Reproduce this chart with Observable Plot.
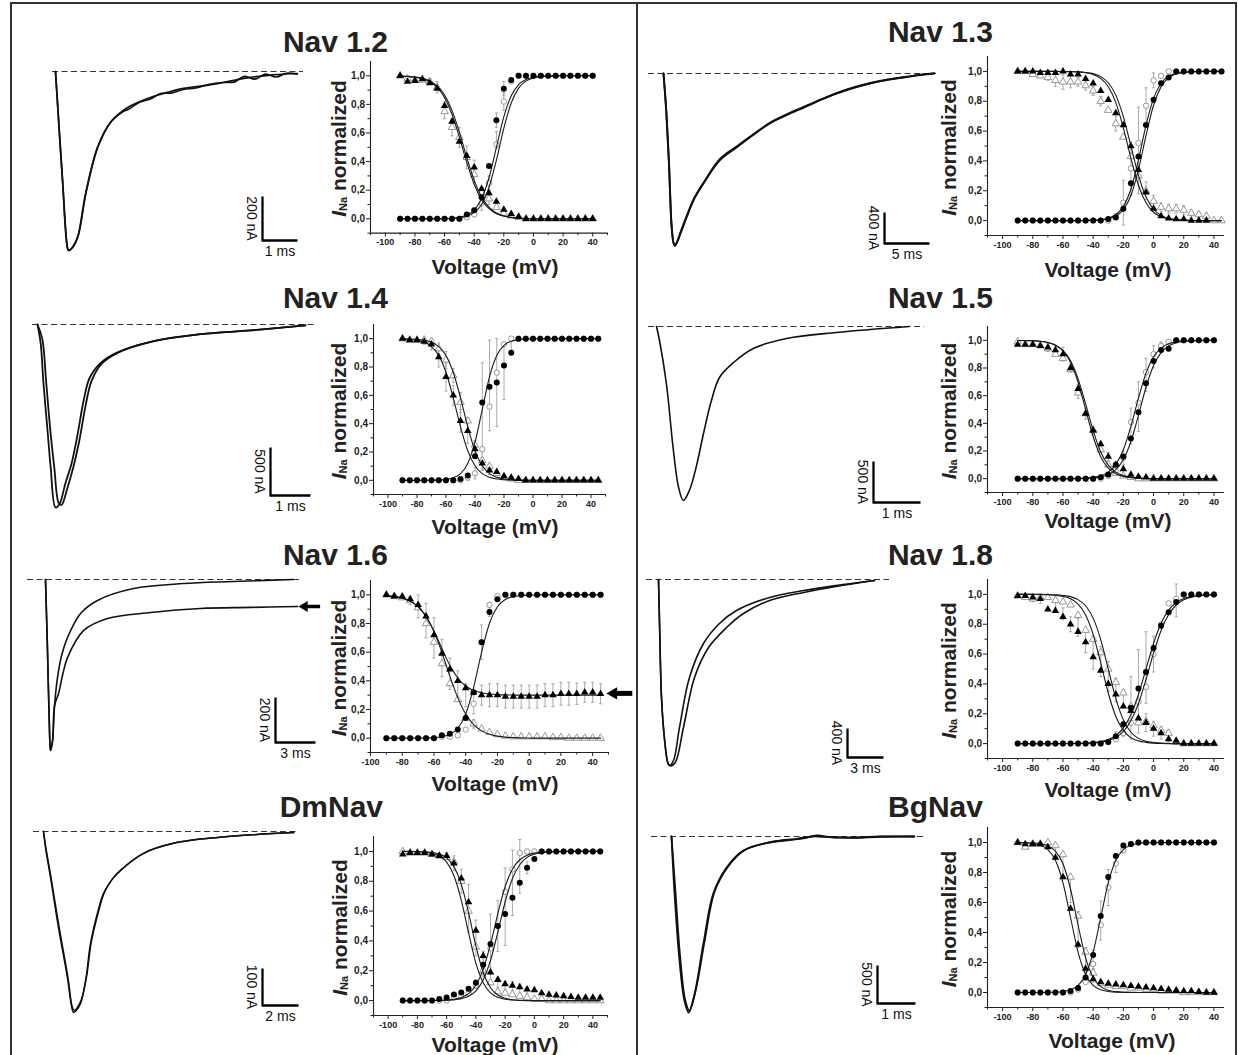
<!DOCTYPE html>
<html><head><meta charset="utf-8">
<script src="https://cdn.jsdelivr.net/npm/d3@7"></script>
<script src="https://cdn.jsdelivr.net/npm/@observablehq/plot@0.6"></script>
<style>
body{margin:0;background:#fff;}
#fig{position:relative;width:1238px;height:1055px;overflow:hidden;background:#fff;font-family:"Liberation Sans",Arial,sans-serif;}
</style></head>
<body><div id="fig"></div>
<script>
// ---------------- DATA ----------------
const panelNames = ["Nav 1.2","Nav 1.3","Nav 1.4","Nav 1.5","Nav 1.6","Nav 1.8","DmNav","BgNav"];
const volt40 = [-90,-85,-80,-75,-70,-65,-60,-55,-50,-45,-40,-35,-30,-25,-20,-15,-10,-5,0,5,10,15,20,25,30,35,40];
const volt45 = [-90,-85,-80,-75,-70,-65,-60,-55,-50,-45,-40,-35,-30,-25,-20,-15,-10,-5,0,5,10,15,20,25,30,35,40,45];
const xTicksMajor = [-100,-80,-60,-40,-20,0,20,40];
const xTicksMinor = [-110,-90,-70,-50,-30,-10,10,30,50];
const yTicksMajor = [0,0.2,0.4,0.6,0.8,1.0];
const yTicksMinor = [-0.1,0.1,0.3,0.5,0.7,0.9];
const scaleBarMs = [1,5,1,1,3,3,2,1];
const scaleBarNA = [200,400,500,500,200,400,100,500];

// Nav 1.2 (volt40)
const nav12ActFilled = [0,0,0,0,0,0,0,0,0,.03,.06,.15,.37,.69,.91,.97,1,1,1,1,1,1,1,1,1,1,1];
const nav12ActOpen   = [0,0,0,0,0,0,0,0,0,.01,.03,.11,.25,.52,.82,.96,1,1,1,1,1,1,1,1,1,1,1];
const nav12InFilled  = [1,.96,.965,.977,.95,.91,.79,.68,.54,.44,.36,.21,.18,.12,.065,.035,.016,0,0,0,0,0,0,0,0,0,0];
const nav12InOpen    = [1,.98,.97,.97,.96,.92,.75,.64,.57,.43,.31,.18,.14,.08,.04,.02,.01,0,0,0,0,0,0,0,0,0,0];
const nav12FitAct1   = [0,0,0,0,0,.001,.002,.004,.01,.026,.061,.14,.287,.5,.713,.86,.939,.974,.989,.996,.998,1,1,1,1,1,1];
const nav12FitAct2   = [0,0,0,0,0,0,.001,.003,.007,.018,.043,.1,.22,.41,.633,.81,.914,.963,.985,.994,.997,.999,1,1,1,1,1];
const nav12FitIn1    = [.998,.995,.99,.979,.959,.919,.847,.731,.571,.394,.242,.135,.071,.036,.018,.009,.004,.002,.001,0,0,0,0,0,0,0,0];
const nav12FitIn2    = [.998,.996,.991,.982,.964,.929,.865,.758,.606,.429,.269,.153,.081,.041,.021,.01,.005,.0025,.001,0,0,0,0,0,0,0,0];
const nav12Err = [[-70,.96,.02],[-65,.92,.04],[-60,.76,.06],[-55,.64,.06],[-50,.57,.07],[-45,.43,.08],[-40,.33,.08],[-35,.18,.04],[-30,.14,.04],[-25,.1,.03],[-35,.11,.05],[-30,.25,.05],[-25,.55,.06],[-25,.69,.05],[-20,.82,.06],[-20,.91,.05]];
const nav12TraceA = [[0,0],[0.2,-495],[0.34,-800],[0.37,-814],[0.49,-800],[0.63,-755],[0.86,-555],[1.2,-345],[1.57,-232],[2.06,-164],[2.71,-118],[3.2,-95],[3.66,-77],[4.1,-68],[4.63,-55],[5.1,-40],[5.57,-27],[6.2,-15],[6.91,-9]];
const nav12TraceB = [[0,0],[0.2,-490],[0.35,-805],[0.39,-812],[0.5,-795],[0.65,-745],[0.88,-545],[1.22,-340],[1.6,-225],[1.9,-185],[2.1,-170],[2.4,-140],[2.71,-125],[3.0,-100],[3.3,-98],[3.66,-82],[4.0,-75],[4.4,-58],[4.8,-50],[5.1,-48],[5.4,-22],[5.7,-35],[6.0,-12],[6.3,-25],[6.6,-8],[6.9,-12]];

// Nav 1.3 (volt45)
const nav13ActFilled = [0,0,0,0,0,0,0,0,0,0,0,0,.01,.02,.08,.25,.43,.64,.81,.92,.96,1,1,1,1,1,1,1];
const nav13ActOpen   = [0,0,0,0,0,0,0,0,0,0,0,0,0,.03,.12,.35,.52,.77,.94,.97,1,1,1,1,1,1,1,1];
const nav13InFilled  = [1,1,1,.99,.99,.99,1,.98,.98,.95,.92,.87,.81,.72,.64,.5,.34,.19,.08,.03,.015,.01,.01,0,0,0,null,null];
const nav13InOpen    = [1,1,.98,.97,.96,.94,.93,.93,.93,.905,.87,.8,.74,.65,.56,.43,.3,.2,.13,.09,.08,.08,.07,.05,.04,.03,0,0];
const nav13FitAct1   = [0,0,0,0,0,0,0,0,0,.001,.002,.006,.016,.039,.094,.21,.407,.638,.819,.921,.968,.987,.995,.998,.999,1,1,1];
const nav13FitAct2   = [0,0,0,0,0,0,0,0,0,.001,.002,.005,.012,.03,.073,.168,.341,.57,.773,.897,.957,.983,.993,.997,.999,1,1,1];
const nav13FitIn1    = [1,1,1,1,1,1,.999,.998,.996,.991,.979,.953,.897,.791,.622,.418,.237,.119,.056,.025,.011,.005,.002,.001,0,0,0,0];
const nav13FitIn2    = [1,1,1,1,1,1,.999,.999,.997,.993,.985,.965,.924,.841,.697,.5,.303,.159,.076,.035,.015,.007,.003,.001,0,0,0,0];
const nav13Err = [[-70,.96,.02],[-65,.94,.04],[-60,.93,.05],[-55,.93,.04],[-50,.93,.03],[-45,.905,.03],[-40,.87,.03],[-35,.8,.03],[-25,.65,.05],[-20,.12,.15],[-15,.35,.18],[-10,.47,.29],[-5,.77,.12],[0,.94,.05],[-5,.2,.06],[0,.13,.04],[5,.09,.03],[10,.08,.03],[15,.08,.03],[20,.07,.03],[25,.05,.02],[30,.04,.02],[35,.03,.02]];
const nav13TraceA = [[0,0],[0.3,-480],[0.6,-1150],[0.89,-1950],[1.1,-2180],[1.25,-2219],[1.5,-2180],[1.9,-2060],[2.56,-1858],[3.4,-1620],[4.44,-1419],[6.22,-1123],[8.11,-955],[10,-790],[11.8,-645],[13.7,-535],[15.6,-439],[17.4,-345],[19.2,-258],[21,-190],[22.9,-129],[24.8,-85],[26.7,-52],[28.5,-20],[30.1,0]];
const nav13TraceB = [[0,0],[0.32,-500],[0.62,-1180],[0.9,-1970],[1.12,-2190],[1.27,-2225],[1.52,-2170],[1.92,-2040],[2.6,-1830],[3.45,-1600],[4.5,-1400],[6.3,-1100],[8.2,-935],[10.1,-775],[11.9,-630],[13.8,-520],[15.7,-425],[17.5,-335],[19.3,-250],[21.1,-180],[23,-122],[24.9,-78],[26.8,-45],[28.6,-15],[30.1,5]];

// Nav 1.4 (volt45)
const nav14ActFilled = [0,0,0,0,0,0,0,0,.01,.035,.17,.55,.66,.69,.81,.9,1,1,1,1,1,1,1,1,1,1,1,1];
const nav14ActOpen   = [0,0,0,0,0,0,0,0,0,.02,.05,.22,.52,.76,.96,1,1,1,1,1,1,1,1,1,1,1,1,1];
const nav14InFilled  = [1,.99,.99,.98,.96,.87,.73,.6,.42,.35,.22,.12,.07,.06,.03,.02,.01,0,0,0,0,0,0,0,0,0,0,0];
const nav14InOpen    = [1,.99,.99,.99,.98,.93,.85,.74,.55,.42,.25,.14,.1,.05,.02,.01,0,0,0,0,0,0,0,0,0,0,0,0];
const nav14FitAct1   = [0,0,0,0,.001,.002,.007,.018,.047,.119,.269,.5,.731,.881,.953,.982,.993,.998,.999,1,1,1,1,1,1,1,1,1];
const nav14FitAct2   = null;
const nav14FitIn1    = [.998,.995,.989,.975,.944,.881,.763,.582,.378,.209,.103,.047,.021,.009,.004,.002,.001,0,0,0,0,0,0,0,0,0,0,0];
const nav14FitIn2    = [.999,.998,.995,.989,.975,.944,.881,.763,.582,.378,.209,.103,.047,.021,.009,.004,.002,.001,0,0,0,0,0,0,0,0,0,0];
const nav14Err = [[-75,.98,.02],[-70,.96,.04],[-65,.87,.07],[-65,.93,.04],[-60,.73,.1],[-60,.85,.06],[-55,.6,.07],[-55,.74,.05],[-50,.42,.08],[-50,.55,.07],[-45,.35,.09],[-40,.22,.06],[-35,.12,.04],[-30,.07,.03],[-45,.02,.02],[-40,.05,.04],[-35,.45,.38],[-30,.67,.32],[-25,.69,.31],[-20,.77,.2],[-15,.95,.05]];
const nav14TraceA = [[0,0],[0.08,-200],[0.15,-615],[0.25,-1100],[0.33,-1490],[0.45,-1906],[0.55,-1870],[0.7,-1650],[0.85,-1450],[1.0,-1150],[1.15,-800],[1.3,-560],[1.58,-400],[2.0,-290],[2.83,-180],[4.08,-100],[5.33,-62],[6.7,-10]];
const nav14TraceB = [[0,0],[0.12,-150],[0.22,-615],[0.32,-1100],[0.42,-1490],[0.53,-1860],[0.6,-1880],[0.75,-1700],[0.9,-1480],[1.05,-1200],[1.2,-850],[1.35,-590],[1.6,-410],[2.0,-295],[2.83,-180],[4.08,-100],[5.33,-62],[6.7,-10]];

// Nav 1.5 (volt40)
const nav15ActFilled = [0,0,0,0,0,0,0,0,0,0,0,.01,.03,.1,.16,.29,.48,.69,.85,.93,.94,1,1,1,1,1,1];
const nav15ActOpen   = [0,0,0,0,0,0,0,0,0,0,0,0,.02,.06,.15,.41,.55,.77,.9,.96,.99,1,1,1,1,1,1];
const nav15InFilled  = [.97,.97,.97,.96,.95,.93,.9,.8,.65,.47,.35,.25,.16,.1,.07,.03,.015,.01,0,0,0,0,0,0,0,0,0];
const nav15InOpen    = [.99,.97,.97,.96,.94,.9,.87,.79,.62,.47,.35,.21,.1,.04,.02,.01,0,0,0,0,0,0,0,0,0,0,0];
const nav15FitAct1   = [0,0,0,0,0,0,0,.001,.002,.004,.009,.021,.047,.103,.209,.378,.582,.763,.881,.944,.975,.989,.995,.998,.999,1,1];
const nav15FitAct2   = [0,0,0,0,0,0,0,0,.001,.002,.006,.013,.029,.065,.138,.269,.458,.661,.818,.911,.96,.982,.992,.997,.998,.999,1];
const nav15FitIn1    = [.999,.999,.997,.993,.985,.965,.924,.841,.697,.5,.303,.159,.076,.035,.015,.007,.003,.001,0,0,0,0,0,0,0,0,0];
const nav15FitIn2    = [.999,.998,.997,.993,.984,.965,.927,.852,.721,.54,.347,.193,.098,.047,.022,.01,.005,.002,.001,0,0,0,0,0,0,0,0];
const nav15Err = [[-70,.95,.03],[-65,.93,.03],[-60,.9,.05],[-55,.8,.03],[-50,.63,.05],[-45,.47,.04],[-40,.35,.03],[-35,.23,.04],[-30,.16,.03],[-20,.15,.05],[-15,.38,.13],[-10,.52,.18],[-5,.75,.12],[0,.88,.08],[5,.96,.03]];
const nav15TraceA = [[0,0],[0.064,-171],[0.21,-695],[0.36,-1512],[0.47,-1963],[0.57,-2122],[0.7,-2000],[0.85,-1700],[1.0,-1305],[1.17,-900],[1.34,-622],[1.64,-439],[2.06,-268],[2.77,-146],[3.83,-73],[5.38,0]];

// Nav 1.6 (volt45)
const nav16ActFilled = [0,0,0,0,0,0,0,.02,.03,.06,.14,.32,.67,.88,.97,1,1,1,1,1,1,1,1,1,1,1,1,1];
const nav16ActOpen   = [0,0,0,0,0,0,0,.01,.01,.02,.06,.24,.67,.93,.99,1,1,1,1,1,1,1,1,1,1,1,1,1];
const nav16InFilled  = [1,.99,.99,.97,.93,.85,.72,.59,.48,.4,.35,.32,.3,.3,.3,.29,.29,.29,.29,.29,.3,.3,.31,.31,.31,.32,.32,.31];
const nav16InOpen    = [1,.99,.98,.96,.91,.8,.67,.52,.38,.27,.14,.1,.065,.04,.025,.015,.01,.01,.01,.01,.01,.005,.005,0,0,0,0,0];
const nav16FitAct1   = [0,0,0,0,0,.001,.004,.01,.027,.069,.168,.354,.599,.802,.917,.968,.988,.995,.998,.999,1,1,1,1,1,1,1,1];
const nav16FitAct2   = null;
const nav16FitIn1    = [.995,.989,.978,.957,.917,.849,.747,.626,.508,.42,.364,.333,.317,.308,.304,.302,.301,.3,.3,.3,.3,.3,.3,.3,.3,.3,.3,.3];
const nav16FitIn2    = [.994,.988,.977,.956,.917,.85,.744,.599,.433,.283,.168,.094,.051,.027,.014,.007,.004,.002,.001,0,0,0,0,0,0,0,0,0];
const nav16Err = [[-75,.96,.03],[-70,.92,.08],[-65,.82,.12],[-60,.7,.14],[-55,.56,.13],[-50,.45,.11],[-45,.37,.1],[-40,.3,.08],[-35,.24,.07],[-35,.1,.03],[-30,.67,.12],[-25,.88,.03],[-30,.3,.07],[-25,.3,.08],[-20,.3,.08],[-15,.29,.08],[-10,.29,.08],[-5,.29,.08],[0,.29,.08],[5,.29,.08],[10,.3,.08],[15,.3,.08],[20,.31,.08],[25,.31,.08],[30,.31,.075],[35,.32,.07],[40,.32,.07],[45,.31,.07]];
const nav16TraceA = [[0,0],[0.15,-316],[0.3,-671],[0.375,-760],[0.53,-716],[0.68,-560],[0.9,-436],[1.2,-340],[1.65,-258],[2.63,-151],[3.9,-93],[6.6,-40],[10.35,-18],[14.1,-9],[18.6,0]];
const nav16TraceB = [[0,0],[0.15,-316],[0.3,-671],[0.375,-760],[0.53,-716],[0.68,-560],[0.98,-507],[1.3,-420],[1.65,-347],[2.85,-227],[4.65,-173],[7.9,-147],[11.6,-129],[15.4,-124],[18.9,-120]];
const nav16TraceArrow = [20.6, 19.1, -120];   // tail time, tip time, current
const nav16CurveArrow = [65, 49.4, 0.3125];   // tail mV, tip mV, normalized value

// Nav 1.8 (volt40)
const nav18ActFilled = [0,0,0,0,0,0,0,0,0,0,0,0,.01,.05,.13,.24,.37,.48,.64,.79,.88,.95,1,1,1,1,1];
const nav18ActOpen   = [0,0,0,0,0,0,0,0,0,0,0,0,.01,.03,.07,.14,.28,.38,.6,.8,.94,.97,1,1,1,1,1];
const nav18InFilled  = [.99,.99,.98,.97,.9,.89,.85,.8,.75,.68,.58,.49,.4,.33,.25,.22,.17,.14,.1,.07,.03,.02,0,0,0,0,0];
const nav18InOpen    = [.99,.98,.97,.98,.98,.96,.95,.93,.86,.76,.7,.61,.5,.41,.34,.25,.14,.15,.12,.09,.07,.01,0,0,0,0,0];
const nav18FitAct1   = [0,0,0,0,0,0,0,.001,.002,.003,.007,.014,.027,.054,.105,.193,.329,.5,.671,.807,.895,.946,.973,.986,.993,.997,.998];
const nav18FitAct2   = [0,0,0,0,0,0,0,.001,.001,.002,.005,.01,.021,.041,.081,.153,.269,.429,.606,.758,.865,.929,.964,.982,.991,.996,.998];
const nav18FitIn1    = [1,1,1,.999,.998,.994,.987,.971,.935,.862,.731,.542,.339,.182,.089,.04,.018,.008,.003,.001,0,0,0,0,0,0,0];
const nav18FitIn2    = [1,1,1,1,.999,.997,.993,.985,.965,.924,.841,.697,.5,.303,.159,.076,.035,.015,.007,.003,.001,0,0,0,0,0,0];
const nav18Err = [[-80,.97,.02],[-75,.97,.03],[-65,.94,.03],[-60,.87,.04],[-55,.8,.05],[-50,.78,.06],[-45,.68,.07],[-40,.6,.1],[-35,.55,.1],[-30,.45,.1],[-25,.36,.08],[-20,.3,.06],[-25,.05,.03],[-20,.1,.05],[-15,.24,.21],[-10,.35,.28],[-5,.51,.24],[0,.6,.12],[-5,.14,.06],[0,.1,.05],[5,.07,.04],[10,.05,.04],[15,.96,.11]];
const nav18TraceA = [[0,0],[0.1,-700],[0.25,-1628],[0.5,-2200],[0.8,-2540],[0.92,-2566],[1.25,-2497],[1.75,-2041],[2.58,-1352],[3.75,-883],[5.08,-607],[6.5,-428],[9.25,-248],[12.1,-152],[14.8,-83],[18,-14]];
const nav18TraceB = [[0,0],[0.1,-700],[0.25,-1628],[0.5,-2200],[0.8,-2540],[1.0,-2570],[1.4,-2524],[2.08,-2041],[3.0,-1352],[4.17,-938],[5.67,-662],[7.08,-469],[9.25,-290],[12.1,-179],[14.8,-97],[18,-14]];

// DmNav (volt45)
const dmActFilled = [0,0,0,0,0,.01,.02,.04,.055,.08,.12,.24,.38,.5,.58,.69,.79,.89,.95,1,1,1,1,1,1,1,1,1];
const dmActOpen   = [0,0,0,0,0,0,0,.02,.03,.05,.1,.2,.35,.5,.73,.88,.99,1,1,1,1,1,1,1,1,1,1,1];
const dmInFilled  = [.98,.99,.99,.99,.98,.97,.97,.92,.82,.66,.47,.3,.19,.14,.11,.1,.09,.075,.07,.05,.04,.035,.03,.025,.02,.02,.02,.02];
const dmInOpen    = [1,.99,.99,.99,.98,.97,.96,.93,.8,.6,.36,.2,.12,.06,.05,.04,.03,.02,.01,.01,0,0,0,0,0,0,0,0];
const dmFitAct1   = [0,0,0,0,.001,.002,.004,.009,.021,.047,.103,.209,.378,.582,.763,.881,.944,.975,.989,.995,.998,.999,1,1,1,1,1,1];
const dmFitAct2   = [0,0,0,0,0,.001,.002,.006,.013,.029,.065,.138,.269,.458,.661,.818,.911,.96,.982,.992,.997,.998,.999,1,1,1,1,1];
const dmFitIn1    = [1,.999,.998,.995,.987,.969,.928,.837,.674,.455,.251,.119,.052,.022,.009,.004,.001,0,0,0,0,0,0,0,0,0,0,0];
const dmFitIn2    = [1,1,.999,.997,.993,.982,.957,.898,.781,.59,.366,.19,.086,.037,.015,.006,.002,.001,0,0,0,0,0,0,0,0,0,0];
const dmErr = [[-60,.97,.02],[-55,.92,.05],[-50,.8,.08],[-45,.62,.16],[-40,.42,.12],[-35,.25,.08],[-30,.17,.05],[-25,.12,.03],[-20,.1,.03],[-40,.11,.03],[-35,.22,.06],[-30,.38,.2],[-25,.5,.17],[-20,.63,.26],[-15,.79,.22],[-10,.9,.18],[-5,.89,.04],[-15,.1,.03],[-10,.08,.03],[-5,.07,.02]];
const dmTraceA = [[0,0],[0.11,-43],[0.39,-124],[0.83,-259],[1.33,-395],[1.55,-470],[1.67,-489],[1.8,-485],[2.06,-465],[2.35,-400],[2.61,-303],[3.0,-220],[3.33,-168],[3.8,-130],[4.28,-105],[5.56,-59],[7.22,-32],[9.67,-16],[13.9,-3]];
const dmTraceB = [[0,0],[0.14,-46],[0.43,-128],[0.88,-262],[1.37,-398],[1.6,-475],[1.72,-484],[1.85,-478],[2.1,-455],[2.4,-390],[2.65,-300],[3.05,-218],[3.37,-166],[3.8,-130],[4.28,-105],[5.56,-59],[7.22,-32],[9.67,-16],[13.9,-3]];

// BgNav (volt40)
const bgActFilled = [0,0,0,0,0,0,0,.01,.03,.1,.25,.51,.77,.91,.98,.99,1,1,1,1,1,1,1,1,1,1,1];
const bgActOpen   = [0,0,0,0,0,0,0,0,.02,.07,.19,.45,.7,.86,.95,.99,1,1,1,1,1,1,1,1,1,1,1];
const bgInFilled  = [1,.99,.99,.99,.97,.9,.77,.56,.32,.16,.09,.07,.06,.055,.05,.045,.04,.035,.03,.025,.02,.015,.01,.01,.005,0,0];
const bgInOpen    = [1,.97,.99,.99,1,.98,.92,.77,.51,.27,.13,.06,.05,.04,.04,.03,.03,.02,.02,.01,.01,.01,0,0,0,0,0];
const bgFitAct1   = [0,0,0,0,.001,.002,.007,.018,.047,.119,.269,.5,.731,.881,.953,.982,.993,.998,.999,1,1,1,1,1,1,1,1];
const bgFitAct2   = null;
const bgFitIn1    = [.999,.998,.993,.982,.953,.881,.731,.5,.269,.119,.047,.018,.007,.002,.001,0,0,0,0,0,0,0,0,0,0,0,0];
const bgFitIn2    = [1,.999,.997,.992,.978,.943,.858,.69,.45,.231,.1,.039,.015,.006,.002,.001,0,0,0,0,0,0,0,0,0,0,0];
const bgErr = [[-70,.99,.02],[-65,.94,.05],[-60,.85,.07],[-55,.68,.08],[-50,.42,.12],[-45,.22,.08],[-40,.11,.04],[-35,.07,.02],[-45,.1,.03],[-40,.22,.06],[-35,.48,.13],[-30,.7,.12],[-25,.86,.06],[-20,.95,.02]];
const bgTraceA = [[0,0],[0.08,-750],[0.21,-1632],[0.34,-2158],[0.45,-2316],[0.61,-2066],[0.84,-1408],[1.1,-750],[1.45,-408],[1.89,-184],[2.58,-79],[3.47,-26],[3.82,13],[4.2,-10],[4.79,-13],[5.5,0],[6.39,0]];
const bgTraceB = [[0,0],[0.1,-700],[0.23,-1600],[0.36,-2150],[0.47,-2290],[0.63,-2040],[0.87,-1380],[1.13,-730],[1.48,-400],[1.92,-180],[2.6,-75],[3.3,-30],[3.7,0],[4.0,-5],[4.79,-18],[5.5,-3],[6.39,0]];

// ---------------- LAYOUT (page pixels) ----------------
const layouts = [
 {frame:[370,607,60.7,232.3], xd:[-110,50], title:[388,52], ylabX:338, xlab:[495,274], box:[20,58,305,215], origin:[55,71], kx:35, ky:0.22, bar:[262,240], dash:[52,303], sw:1.7},
 {frame:[987,1224,56,235], xd:[-110,47], title:[993,42], ylabX:948, xlab:[1108,277], box:[640,58,300,215], origin:[663,73], kx:9, ky:0.0775, bar:[884,243], dash:[648,936], sw:1.9},
 {frame:[372.5,604.5,324,494], xd:[-110,50], title:[388,308], ylabX:338, xlab:[495,534], box:[20,312,305,215], origin:[37,324], kx:40, ky:0.096, bar:[270,495], dash:[32,315], sw:1.8},
 {frame:[987,1224,326,492], xd:[-110,47], title:[993,308], ylabX:948, xlab:[1108,528], box:[640,312,300,215], origin:[656,326], kx:47, ky:0.082, bar:[873,502], dash:[648,924], sw:1.6},
 {frame:[370,608,580,752], xd:[-100,50], title:[388,565], ylabX:338, xlab:[495,791], box:[20,567,305,215], origin:[45,579], kx:13.33, ky:0.225, bar:[275,742], dash:[27,300], sw:1.6},
 {frame:[987,1224,579,758], xd:[-110,47], title:[993,565], ylabX:948, xlab:[1108,797], box:[640,567,300,215], origin:[658,579], kx:12, ky:0.0725, bar:[847,757], dash:[646,889], sw:1.6},
 {frame:[373,607,836,1015], xd:[-110,50], title:[383,817], ylabX:339, xlab:[495,1052], box:[20,820,305,215], origin:[43,831], kx:18, ky:0.37, bar:[262,1005], dash:[33,298], sw:1.5},
 {frame:[987,1224,827,1007], xd:[-110,47], title:[983,817], ylabX:948, xlab:[1112,1048], box:[640,822,300,215], origin:[671,836], kx:38, ky:0.076, bar:[877,1003], dash:[651,923], sw:1.8}
];

const panels = [
 {volt:volt40, actF:nav12ActFilled, actO:nav12ActOpen, inF:nav12InFilled, inO:nav12InOpen, fits:[nav12FitAct1,nav12FitAct2,nav12FitIn1,nav12FitIn2], err:nav12Err, traces:[nav12TraceA,nav12TraceB]},
 {volt:volt45, actF:nav13ActFilled, actO:nav13ActOpen, inF:nav13InFilled, inO:nav13InOpen, fits:[nav13FitAct1,nav13FitAct2,nav13FitIn1,nav13FitIn2], err:nav13Err, traces:[nav13TraceA,nav13TraceB]},
 {volt:volt45, actF:nav14ActFilled, actO:nav14ActOpen, inF:nav14InFilled, inO:nav14InOpen, fits:[nav14FitAct1,nav14FitAct2,nav14FitIn1,nav14FitIn2], err:nav14Err, traces:[nav14TraceA,nav14TraceB]},
 {volt:volt40, actF:nav15ActFilled, actO:nav15ActOpen, inF:nav15InFilled, inO:nav15InOpen, fits:[nav15FitAct1,nav15FitAct2,nav15FitIn1,nav15FitIn2], err:nav15Err, traces:[nav15TraceA]},
 {volt:volt45, actF:nav16ActFilled, actO:nav16ActOpen, inF:nav16InFilled, inO:nav16InOpen, fits:[nav16FitAct1,nav16FitAct2,nav16FitIn1,nav16FitIn2], err:nav16Err, traces:[nav16TraceA,nav16TraceB], traceArrow:nav16TraceArrow, curveArrow:nav16CurveArrow},
 {volt:volt40, actF:nav18ActFilled, actO:nav18ActOpen, inF:nav18InFilled, inO:nav18InOpen, fits:[nav18FitAct1,nav18FitAct2,nav18FitIn1,nav18FitIn2], err:nav18Err, traces:[nav18TraceA,nav18TraceB]},
 {volt:volt45, actF:dmActFilled, actO:dmActOpen, inF:dmInFilled, inO:dmInOpen, fits:[dmFitAct1,dmFitAct2,dmFitIn1,dmFitIn2], err:dmErr, traces:[dmTraceA,dmTraceB]},
 {volt:volt40, actF:bgActFilled, actO:bgActOpen, inF:bgInFilled, inO:bgInOpen, fits:[bgFitAct1,bgFitAct2,bgFitIn1,bgFitIn2], err:bgErr, traces:[bgTraceA,bgTraceB]}
];

// ---------------- DRAWING ----------------
const FONT = "'Liberation Sans', Arial, Helvetica, sans-serif";
const fig = document.getElementById("fig");
function place(el, left, top) {
  el.style.position = "absolute";
  el.style.left = left + "px";
  el.style.top = top + "px";
  fig.appendChild(el);
}

function boltzPlot(p, L, i) {
  const [fl, fr, ft, fb] = L.frame;
  const mL = 42, mR = 36, mT = 6, mB = 24;
  const k = (fr - fl) / (L.xd[1] - L.xd[0]); // px per mV
  const pts = arr => p.volt.map((v, j) => ({v, y: arr[j]})).filter(d => d.y != null);
  const cap = 1.6 / k;
  const marks = [
    Plot.axisX({ticks: xTicksMinor.filter(v => v >= L.xd[0] && v <= L.xd[1]), tickSize: 2.5, tickFormat: () => "", label: null, stroke: "#222"}),
    Plot.axisX({ticks: xTicksMajor, tickSize: 4, tickPadding: 2, tickFormat: d => String(d), label: null, stroke: "#222", fontSize: 9, fontWeight: "bold"}),
    Plot.axisY({ticks: yTicksMinor, tickSize: 2.5, tickFormat: () => "", label: null, stroke: "#222"}),
    Plot.axisY({ticks: yTicksMajor, tickSize: 4, tickPadding: 1.5, tickFormat: d => d.toFixed(1).replace(".", ","), label: null, stroke: "#222", fontSize: 10, fontWeight: "bold"}),
    Plot.ruleX([L.xd[0]], {stroke: "#222", strokeWidth: 1.1}),
    Plot.ruleY([-0.1], {stroke: "#222", strokeWidth: 1.1}),
    Plot.link(p.err, {x1: d => d[0], x2: d => d[0], y1: d => d[1] - d[2], y2: d => d[1] + d[2], stroke: "#a0a0a0", strokeWidth: 0.9}),
    Plot.link(p.err, {x1: d => d[0] - cap, x2: d => d[0] + cap, y1: d => d[1] + d[2], y2: d => d[1] + d[2], stroke: "#a0a0a0", strokeWidth: 0.9}),
    Plot.link(p.err, {x1: d => d[0] - cap, x2: d => d[0] + cap, y1: d => d[1] - d[2], y2: d => d[1] - d[2], stroke: "#a0a0a0", strokeWidth: 0.9}),
    Plot.dot(pts(p.inO), {x: "v", y: "y", symbol: "triangle", r: 2.8, fill: "white", stroke: "#8c8c8c", strokeWidth: 0.9}),
    Plot.dot(pts(p.actO), {x: "v", y: "y", symbol: "circle", r: 2.7, fill: "white", stroke: "#8c8c8c", strokeWidth: 0.9}),
    ...p.fits.filter(f => f).map(f => Plot.line(pts(f), {x: "v", y: "y", curve: "monotone-x", stroke: "#1a1a1a", strokeWidth: 1.1})),
    Plot.dot(pts(p.inF), {x: "v", y: "y", symbol: "triangle", r: 2.8, fill: "#000"}),
    Plot.dot(pts(p.actF), {x: "v", y: "y", symbol: "circle", r: 3, fill: "#000"})
  ];
  if (p.curveArrow) {
    const [tail, tip, yv] = p.curveArrow;
    const headC = tip + 6 / k;
    marks.push(Plot.link([p.curveArrow], {x1: () => tail, x2: () => headC, y1: () => yv, y2: () => yv, stroke: "#000", strokeWidth: 5}));
    marks.push(Plot.dot([p.curveArrow], {x: () => headC, y: () => yv, symbol: "triangle", r: 4.6, rotate: -90, fill: "#000"}));
  }
  const svg = Plot.plot({
    width: fr - fl + mL + mR, height: fb - ft + mT + mB,
    marginLeft: mL, marginRight: mR, marginTop: mT, marginBottom: mB,
    x: {domain: L.xd}, y: {domain: [-0.1, 1.1]},
    style: {fontFamily: FONT, fontSize: "10px", fontWeight: "bold", color: "#222", background: "transparent", overflow: "visible"},
    marks
  });
  place(svg, fl - mL, ft - mT);
}

function tracePlot(p, L, i) {
  const [bl, bt, bw, bh] = L.box;
  const [ox, oy] = L.origin;
  const tx = px => (px - ox) / L.kx;       // page px -> ms
  const iy = py => (oy - py) / L.ky;       // page px -> nA
  const cT = tx(L.bar[0]), cI = iy(L.bar[1]);
  const bT = scaleBarMs[i], bI = scaleBarNA[i];
  const d1 = tx(L.dash[0]), d2 = tx(L.dash[1]);
  const marks = [
    Plot.ruleY([0], {x1: () => d1, x2: () => d2, stroke: "#333", strokeWidth: 1.1, strokeDasharray: "6,3.5"}),
    ...p.traces.map(tr => Plot.line(tr, {x: d => d[0], y: d => d[1], curve: "catmull-rom", stroke: "#111", strokeWidth: L.sw})),
    Plot.link([bI], {x1: () => cT, x2: () => cT, y1: () => cI - 1 / L.ky, y2: d => cI + d, stroke: "#000", strokeWidth: 2.3}),
    Plot.link([bT], {x1: () => cT, x2: d => cT + d, y1: () => cI, y2: () => cI, stroke: "#000", strokeWidth: 2.3}),
    Plot.text([bI], {x: () => cT - 11 / L.kx, y: d => cI + d / 2, text: d => `${d} nA`, rotate: 90, fontSize: 14, fontWeight: "normal", fill: "#111"}),
    Plot.text([bT], {x: d => cT + d / 2, y: () => cI - 11 / L.ky, text: d => `${d} ms`, fontSize: 14, fontWeight: "normal", fill: "#111"})
  ];
  if (p.traceArrow) {
    const [tail, tip, cur] = p.traceArrow;
    const headC = tip + 4.5 / L.kx;
    marks.push(Plot.link([p.traceArrow], {x1: () => tail, x2: () => headC, y1: () => cur, y2: () => cur, stroke: "#000", strokeWidth: 3.5}));
    marks.push(Plot.dot([p.traceArrow], {x: () => headC, y: () => cur, symbol: "triangle", r: 4, rotate: -90, fill: "#000"}));
  }
  const svg = Plot.plot({
    width: bw, height: bh, margin: 0,
    x: {domain: [tx(bl), tx(bl + bw)], axis: null},
    y: {domain: [iy(bt + bh), iy(bt)], axis: null},
    style: {fontFamily: FONT, background: "transparent", overflow: "visible"},
    marks
  });
  place(svg, bl, bt);
}

// overlay: frame, divider, titles, axis titles
const ov = d3.create("svg").attr("width", 1238).attr("height", 1055)
  .style("position", "absolute").style("left", "0px").style("top", "0px")
  .style("font-family", FONT);
ov.append("rect").attr("x", 11).attr("y", 3).attr("width", 1225).attr("height", 1080)
  .attr("fill", "none").attr("stroke", "#333").attr("stroke-width", 2);
ov.append("line").attr("x1", 637).attr("x2", 637).attr("y1", 3).attr("y2", 1055)
  .attr("stroke", "#333").attr("stroke-width", 2);
fig.appendChild(ov.node());

layouts.forEach((L, i) => {
  ov.append("text").attr("x", L.title[0]).attr("y", L.title[1]).attr("text-anchor", "end")
    .attr("font-size", 30).attr("font-weight", "bold").attr("fill", "#222").text(panelNames[i]);
  ov.append("text").attr("x", L.xlab[0]).attr("y", L.xlab[1]).attr("text-anchor", "middle")
    .attr("font-size", 21).attr("font-weight", "bold").attr("fill", "#222").text("Voltage (mV)");
  const cy = (L.frame[2] + L.frame[3]) / 2 + 2;
  const t = ov.append("text").attr("transform", `translate(${L.ylabX},${cy}) rotate(-90)`)
    .attr("text-anchor", "middle").attr("dominant-baseline", "central")
    .attr("font-size", 21).attr("font-weight", "bold").attr("fill", "#222");
  t.append("tspan").attr("font-style", "italic").text("I");
  t.append("tspan").attr("font-size", 11).attr("dy", 5).text("Na");
  t.append("tspan").attr("dy", -5).text(" normalized");
  boltzPlot(panels[i], L, i);
  tracePlot(panels[i], L, i);
});
</script>
</body></html>
